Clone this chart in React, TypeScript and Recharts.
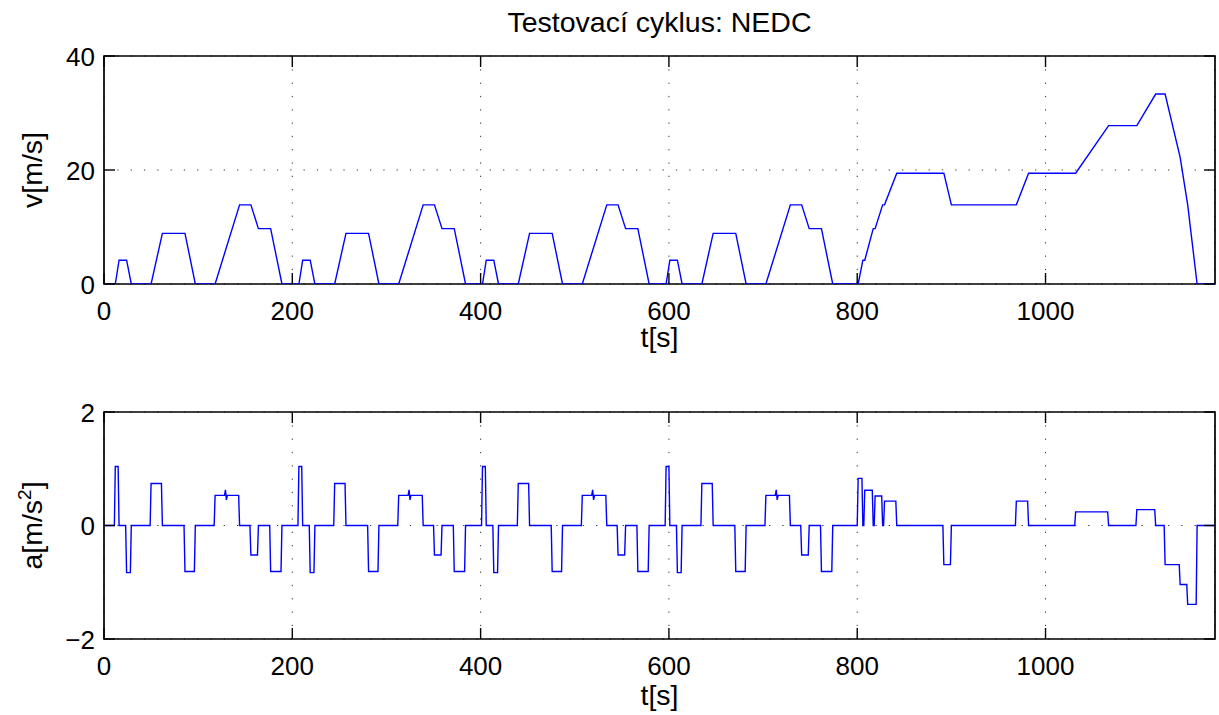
import React from 'react';
import { LineChart, Line, XAxis, YAxis, CartesianGrid, ReferenceArea } from 'recharts';

// NEDC = four ECE-15 urban cycles followed by one EUDC extra-urban cycle
const T_MAX = 1180;
const T_TICKS = [0, 200, 400, 600, 800, 1000];
const V_TICKS = [0, 20, 40];
const A_TICKS = [-2, 0, 2];

// start time of each ECE-15 urban cycle [s]
const ECE_START = [0, 195, 390, 585];

// ECE-15 speed knots (time within cycle [s], speed [m/s])
const ECE_T = [0, 12, 16, 24, 29, 50, 62, 86, 97, 118, 144, 156, 164, 177, 189];
const ECE_V = [0, 0, 4.17, 4.17, 0, 0, 8.89, 8.89, 0, 0, 13.89, 13.89, 9.72, 9.72, 0];

// ECE-15 acceleration knots (time within cycle [s], acceleration [m/s^2])
const ECE_AT = [0, 11, 12, 15, 16, 23, 24, 28, 29, 49, 50, 61, 62, 85, 86, 96, 97, 117, 118, 128, 129, 130, 131, 143, 144, 155, 156, 163, 164, 176, 177, 188, 189];
const ECE_A = [0, 0, 1.04, 1.04, 0, 0, -0.83, -0.83, 0, 0, 0.74, 0.74, 0, 0, -0.81, -0.81, 0, 0, 0.53, 0.53, 0.63, 0.45, 0.53, 0.53, 0, 0, -0.52, -0.52, 0, 0, -0.81, -0.81, 0];

// EUDC speed knots (absolute time [s], speed [m/s])
const EUDC_T = [801, 806, 808, 817, 819, 827, 829, 842, 892, 900, 969, 982, 1032, 1067, 1097, 1117, 1127, 1143, 1151, 1161, 1180];
const EUDC_V = [0, 4.17, 4.17, 9.72, 9.72, 13.89, 13.89, 19.44, 19.44, 13.89, 13.89, 19.44, 19.44, 27.78, 27.78, 33.33, 33.33, 22.22, 13.89, 0, 0];

// EUDC acceleration knots (absolute time [s], acceleration [m/s^2])
const EUDC_AT = [780, 800, 801, 805, 806, 807, 808, 816, 817, 818, 819, 826, 827, 828, 829, 841, 842, 891, 892, 899, 900, 968, 969, 981, 982, 1031, 1032, 1066, 1067, 1096, 1097, 1116, 1117, 1126, 1127, 1142, 1143, 1150, 1151, 1160, 1161, 1180];
const EUDC_A = [0, 0, 0.83, 0.83, 0, 0, 0.62, 0.62, 0, 0, 0.52, 0.52, 0, 0, 0.43, 0.43, 0, 0, -0.69, -0.69, 0, 0, 0.43, 0.43, 0, 0, 0.24, 0.24, 0, 0, 0.28, 0.28, 0, 0, -0.69, -0.69, -1.04, -1.04, -1.39, -1.39, 0, 0];

const speedData = [
  ...ECE_START.flatMap((s) => ECE_T.map((t, i) => ({ t: s + t, v: ECE_V[i] }))),
  ...EUDC_T.map((t, i) => ({ t, v: EUDC_V[i] })),
];

const accelData = [
  ...ECE_START.flatMap((s) => ECE_AT.map((t, i) => ({ t: s + t, a: ECE_A[i] }))),
  ...EUDC_AT.map((t, i) => ({ t, a: EUDC_A[i] })),
];

// figure layout
const FIG_W = 1219;
const FIG_H = 715;
const PLOT_L = 104;
const PLOT_R = 1215;
const FONT = '"Liberation Sans", Arial, Helvetica, sans-serif';
const FS = 26; // tick labels
const FS_LABEL = 28.5; // axis labels and title
const TICK_LEN = 11;
const LINE_BLUE = '#0000ff';

const fmt = (v: number) => (v < 0 ? '\u2212' + Math.abs(v) : String(v));

// x tick: label below the axis, inward marks on the bottom and top edges
const makeXTick = (plotTopLocal: number) => (props: any) => {
  const { x, y, payload } = props;
  return (
    <g>
      <line x1={x} y1={y} x2={x} y2={y - TICK_LEN} stroke="#000" strokeWidth={1.4} />
      <line x1={x} y1={plotTopLocal} x2={x} y2={plotTopLocal + TICK_LEN} stroke="#000" strokeWidth={1.4} />
      <text x={x} y={y + 36} textAnchor="middle" fontFamily={FONT} fontSize={FS} fill="#000">
        {fmt(payload.value)}
      </text>
    </g>
  );
};

// y tick: label left of the axis, inward marks on the left and right edges
const yTick = (props: any) => {
  const { x, y, payload } = props;
  return (
    <g>
      <line x1={x} y1={y} x2={x + TICK_LEN} y2={y} stroke="#000" strokeWidth={1.4} />
      <line x1={PLOT_R} y1={y} x2={PLOT_R - TICK_LEN} y2={y} stroke="#000" strokeWidth={1.4} />
      <text x={x - 9} y={y + 9.5} textAnchor="end" fontFamily={FONT} fontSize={FS} fill="#000">
        {fmt(payload.value)}
      </text>
    </g>
  );
};

const xTitle = (text: string, dy: number) => (p: any) => {
  const vb = p.viewBox || {};
  return (
    <text x={vb.x + vb.width / 2} y={vb.y + dy} textAnchor="middle" fontFamily={FONT} fontSize={FS_LABEL} fill="#000">
      {text}
    </text>
  );
};

const yTitle = (main: string, sup?: string) => (p: any) => {
  const vb = p.viewBox || {};
  const cx = vb.x + 42;
  const cy = vb.y + vb.height / 2;
  return (
    <text
      x={cx}
      y={cy}
      transform={`rotate(-90, ${cx}, ${cy})`}
      textAnchor="middle"
      fontFamily={FONT}
      fontSize={FS_LABEL}
      fill="#000"
    >
      {main}
      {sup ? (
        <>
          <tspan dy={-11} fontSize={19}>{sup}</tspan>
          <tspan dy={11}>]</tspan>
        </>
      ) : null}
    </text>
  );
};

interface PanelProps {
  top: number;
  height: number;
  plotTop: number;
  plotBottom: number;
  data: any[];
  dataKey: string;
  yDomain: [number, number];
  yTicks: number[];
  yLabel: (p: any) => React.ReactNode;
  xLabelDy: number;
}

function Panel({ top, height, plotTop, plotBottom, data, dataKey, yDomain, yTicks, yLabel, xLabelDy }: PanelProps) {
  const marginTop = plotTop - top;
  const axisH = height - (plotBottom - top);
  return (
    <div style={{ position: 'absolute', left: 0, top, width: FIG_W, height }}>
      <LineChart
        width={FIG_W}
        height={height}
        data={data}
        margin={{ top: marginTop, right: FIG_W - PLOT_R, bottom: 0, left: 0 }}
      >
        <CartesianGrid stroke="#3a3a3a" strokeWidth={1} strokeDasharray="1.3 12" />
        <XAxis
          dataKey="t"
          type="number"
          domain={[0, T_MAX]}
          allowDataOverflow
          ticks={T_TICKS}
          interval={0}
          height={axisH}
          tickSize={0}
          tickMargin={0}
          tickLine={false}
          axisLine={false}
          tick={makeXTick(marginTop)}
          label={xTitle('t[s]', xLabelDy)}
        />
        <YAxis
          type="number"
          domain={yDomain}
          allowDataOverflow
          ticks={yTicks}
          interval={0}
          width={PLOT_L}
          tickSize={0}
          tickMargin={0}
          tickLine={false}
          axisLine={false}
          tick={yTick}
          label={yLabel}
        />
        <Line
          type="linear"
          dataKey={dataKey}
          stroke={LINE_BLUE}
          strokeWidth={1.4}
          dot={false}
          activeDot={false}
          isAnimationActive={false}
        />
        {/* axes box */}
        <ReferenceArea
          x1={0}
          x2={T_MAX}
          y1={yDomain[0]}
          y2={yDomain[1]}
          fill="none"
          fillOpacity={0}
          stroke="#000"
          strokeWidth={1.7}
          ifOverflow="visible"
        />
      </LineChart>
    </div>
  );
}

export default function App() {
  return (
    <div style={{ position: 'absolute', left: 0, top: 0, width: FIG_W, height: FIG_H, background: '#fff', overflow: 'hidden' }}>
      <svg style={{ position: 'absolute', left: 0, top: 0 }} width={FIG_W} height={48}>
        <text
          x={(PLOT_L + PLOT_R) / 2}
          y={32}
          textAnchor="middle"
          fontFamily={FONT}
          fontSize={FS_LABEL}
          fill="#000"
        >
          Testovací cyklus: NEDC
        </text>
      </svg>
      <Panel
        top={0}
        height={370}
        plotTop={56}
        plotBottom={284}
        data={speedData}
        dataKey="v"
        yDomain={[0, 40]}
        yTicks={V_TICKS}
        yLabel={yTitle('v[m/s]')}
        xLabelDy={63}
      />
      <Panel
        top={345}
        height={370}
        plotTop={412}
        plotBottom={639}
        data={accelData}
        dataKey="a"
        yDomain={[-2, 2]}
        yTicks={A_TICKS}
        yLabel={yTitle('a[m/s', '2')}
        xLabelDy={66}
      />
    </div>
  );
}
